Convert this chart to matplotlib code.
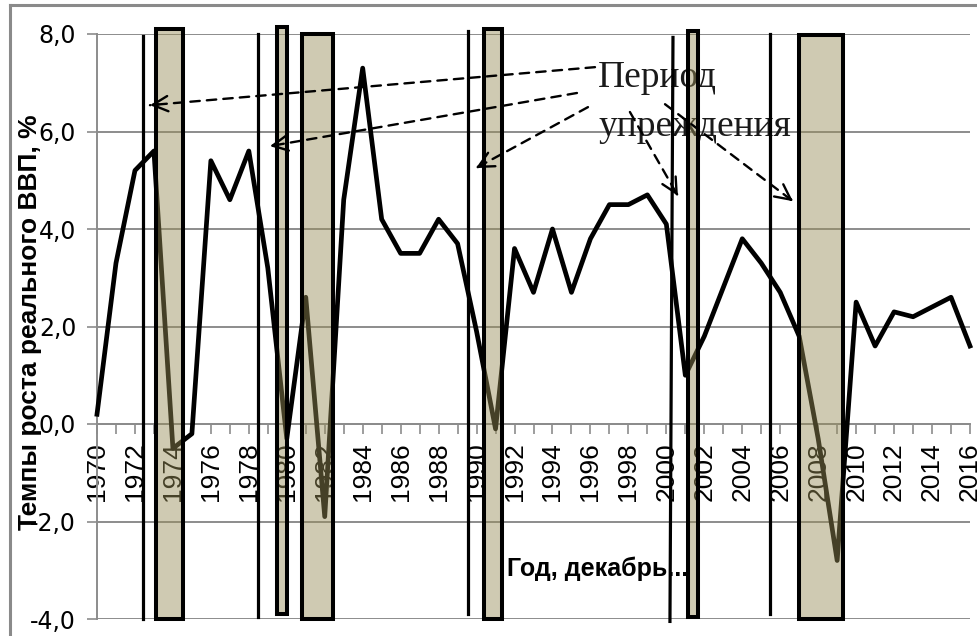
import matplotlib.pyplot as plt
from matplotlib.patches import Rectangle
from matplotlib.lines import Line2D
from matplotlib.ticker import MultipleLocator, FuncFormatter

# --- data -------------------------------------------------------------
years = list(range(1970, 2017))
gdp_growth = [0.2, 3.3, 5.2, 5.6, -0.5, -0.2, 5.4, 4.6, 5.6, 3.2,
              -0.3, 2.6, -1.9, 4.6, 7.3, 4.2, 3.5, 3.5, 4.2, 3.7,
              1.9, -0.1, 3.6, 2.7, 4.0, 2.7, 3.8, 4.5, 4.5, 4.7,
              4.1, 1.0, 1.8, 2.8, 3.8, 3.3, 2.7, 1.8, -0.3, -2.8,
              2.5, 1.6, 2.3, 2.2, 2.4, 2.6, 1.6]

# recession periods (shaded bars)
recession_start = [1973.1, 1979.48, 1980.8, 1990.39, 2001.14, 2006.99]
recession_end = [1974.55, 1980.0, 1982.43, 1991.34, 2001.67, 2009.3]
recession_top = [8.1, 8.14, 8.0, 8.1, 8.07, 7.98]
recession_bottom = [-4.0, -3.9, -4.0, -4.0, -3.95, -4.0]

# signal lines (start of the lead period)
signal_x_top = [1972.42, 1978.48, 1989.55, 2000.35, 2005.46]
signal_x_bottom = [1972.42, 1978.48, 1989.55, 2000.19, 2005.46]
signal_top = [7.95, 8.0, 8.07, 7.93, 8.0]
signal_bottom = [-4.0, -3.96, -3.9, -4.05, -3.9]

# arrows from the label to the signal lines
arrow_from = [(1996.24, 7.32), (1995.29, 6.79), (1995.87, 6.50),
              (1998.08, 6.40), (1999.93, 6.56)]
arrow_to = [(1972.79, 6.54), (1979.11, 5.70), (1989.97, 5.25),
            (2000.61, 4.68), (2006.67, 4.57)]

y_ticks = [-4, -2, 0, 2, 4, 6, 8]

# --- figure -----------------------------------------------------------
fig = plt.figure(figsize=(9.78, 6.36), dpi=100)
ax = fig.add_axes([97 / 978, 1 - 619 / 636, 873 / 978, 585 / 636])
plt.rcParams['font.family'] = ['Liberation Sans', 'DejaVu Sans']

grid_color = '#8c8c8c'

ax.set_xlim(1970, 2016)
ax.set_ylim(-4, 8)

# grid
for yv in y_ticks:
    ax.axhline(yv, color=grid_color, lw=1.4, zorder=1)

# spines
for side in ['top', 'right']:
    ax.spines[side].set_visible(False)
ax.spines['bottom'].set_position(('data', 0))
ax.spines['bottom'].set_color(grid_color)
ax.spines['left'].set_color(grid_color)
ax.spines['bottom'].set_linewidth(1.4)
ax.spines['left'].set_linewidth(1.4)

ax.xaxis.set_major_locator(MultipleLocator(2))
ax.xaxis.set_minor_locator(MultipleLocator(1))
ax.tick_params(axis='x', which='both', direction='out', length=7,
               color=grid_color, width=1.2, pad=6)
ax.tick_params(axis='x', which='major', labelsize=19, labelrotation=90)
ax.set_yticks(y_ticks)
ax.yaxis.set_major_formatter(FuncFormatter(lambda v, p: f"{v:.1f}".replace('.', ',')))
ax.tick_params(axis='y', direction='out', length=7, color=grid_color,
               width=1.2, labelsize=17, pad=8)

# text label
label_x = 1996.4
ax.text(label_x, 6.91, 'Период', family='Liberation Serif', fontsize=27,
        va='baseline', ha='left', color='#1a1a1a', zorder=2)
ax.text(label_x, 5.91, 'упреждения', family='Liberation Serif', fontsize=27,
        va='baseline', ha='left', color='#1a1a1a', zorder=2)

# gdp line
ax.plot(years, gdp_growth, color='black', lw=3.4, zorder=3, clip_on=False)

# shaded recession bars
for x0, x1, y0, y1 in zip(recession_start, recession_end,
                          recession_bottom, recession_top):
    rect = Rectangle((x0, y0), x1 - x0, y1 - y0,
                     facecolor=(152 / 255, 141 / 255, 87 / 255, 0.46),
                     edgecolor='black', lw=2.9, zorder=4, clip_on=False)
    ax.add_patch(rect)

# signal lines
for xt, xb, yt, yb in zip(signal_x_top, signal_x_bottom, signal_top, signal_bottom):
    ax.plot([xt, xb], [yt, yb], color='black', lw=2.3, zorder=5, clip_on=False)

# dashed arrows
for (x0, y0), (x1, y1) in zip(arrow_from, arrow_to):
    ax.annotate('', xy=(x1, y1), xytext=(x0, y0),
                arrowprops=dict(arrowstyle='-', color='black', lw=1.7,
                                linestyle=(0, (4, 3)), shrinkA=0, shrinkB=0),
                zorder=6, annotation_clip=False)
    ax.annotate('', xy=(x1, y1), xytext=(x1 + (x0 - x1) * 0.02, y1 + (y0 - y1) * 0.02),
                arrowprops=dict(arrowstyle='->,head_length=1.1,head_width=0.55',
                                color='black', lw=1.7, shrinkA=0, shrinkB=0),
                zorder=6, annotation_clip=False)

# axis titles
fig.text(30 / 978, 1 - 322 / 636, 'Темпы роста реального ВВП, %',
         rotation=90, ha='center', va='center', fontsize=19, fontweight='bold')
fig.text(598 / 978, 1 - 569 / 636, 'Год, декабрь...',
         ha='center', va='center', fontsize=18, fontweight='bold')

# outer frame of the chart area
fig.add_artist(Line2D([10 / 978, 10 / 978], [0, 1 - 5 / 636], color='#8a8a8a', lw=2.2))
fig.add_artist(Line2D([10 / 978, 1], [1 - 5 / 636, 1 - 5 / 636], color='#8a8a8a', lw=2.2))

fig.savefig('out.png', dpi=100)
